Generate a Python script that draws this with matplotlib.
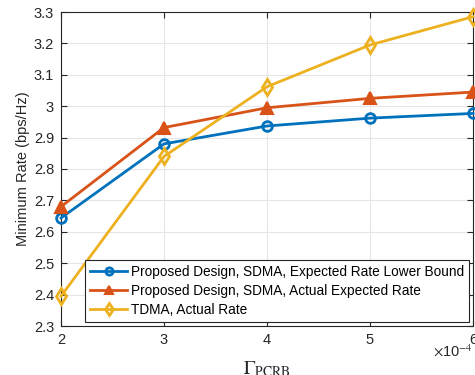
import matplotlib
matplotlib.use('Agg')
import matplotlib.pyplot as plt
import numpy as np

plt.rcParams['font.family'] = ['Liberation Sans', 'DejaVu Sans']
plt.rcParams['mathtext.fontset'] = 'stix'

gamma_pcrb = [2, 3, 4, 5, 6]  # x 1e-4
sdma_lower = [2.644, 2.880, 2.937, 2.962, 2.977]
sdma_actual = [2.680, 2.932, 2.995, 3.025, 3.045]
tdma_actual = [2.395, 2.840, 3.062, 3.195, 3.285]

labels = ['Proposed Design, SDMA, Expected Rate Lower Bound',
          'Proposed Design, SDMA, Actual Expected Rate',
          'TDMA, Actual Rate']
colors = ['#0072BD', '#D95319', '#EDB120']

fig = plt.figure(figsize=(4.75, 3.75), dpi=100)
ax = fig.add_axes([61/475, 1 - 326/375, 412/475, 314/375])

ax.plot(gamma_pcrb, sdma_lower, '-o', color=colors[0], lw=2, ms=7,
        mfc='none', mew=2, label=labels[0], clip_on=False, zorder=3)
ax.plot(gamma_pcrb, sdma_actual, '-^', color=colors[1], lw=2, ms=8,
        mew=1.5, label=labels[1], clip_on=False, zorder=3)
ax.plot(gamma_pcrb, tdma_actual, '-d', color=colors[2], lw=2, ms=8,
        mfc='none', mew=2, label=labels[2], clip_on=False, zorder=3)

ax.set_xlim(2, 6)
ax.set_ylim(2.3, 3.3)
ax.set_xticks([2, 3, 4, 5, 6])
ax.set_xticklabels(['2', '3', '4', '5', '6'])
ax.set_yticks(np.round(np.arange(2.3, 3.31, 0.1), 1))
ax.set_yticklabels(['2.3', '2.4', '2.5', '2.6', '2.7', '2.8', '2.9', '3',
                    '3.1', '3.2', '3.3'])
ax.grid(True, color='#e6e6e6', lw=0.8)
ax.set_axisbelow(True)
ax.tick_params(direction='in', top=True, right=True, labelsize=10.5,
               colors='#262626', length=4, width=0.8, pad=5)
for s in ax.spines.values():
    s.set_color('#262626')
    s.set_linewidth(0.8)

ax.set_ylabel('Minimum Rate (bps/Hz)', fontsize=10.5, color='#262626', labelpad=3)
ax.set_xlabel(r'$\Gamma_{\rm PCRB}$', fontsize=14, color='#262626', labelpad=9)
fig.text(433/475, 1 - 351/375, r'$\times$10$^{-4}$', fontsize=10.5,
         color='#262626', va='center', ha='left')

leg = ax.legend(loc='lower right', fontsize=9.8, fancybox=False,
                edgecolor='#262626', framealpha=1, borderaxespad=0.3,
                handlelength=2.7, handletextpad=0.3, labelspacing=0.38,
                borderpad=0.35, markerscale=0.75)
leg.get_frame().set_linewidth(0.8)

fig.savefig('out.png', dpi=100)
